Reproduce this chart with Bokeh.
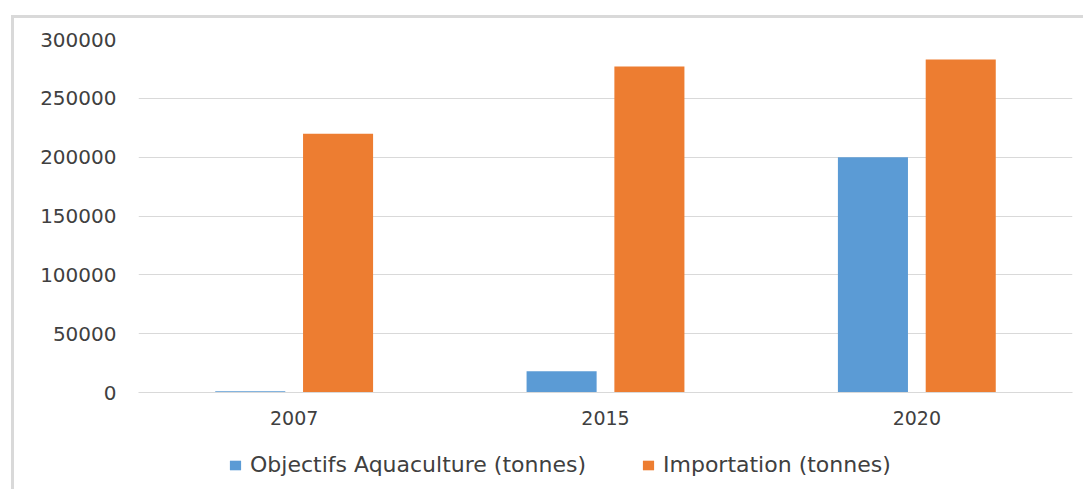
from bokeh.plotting import figure
from bokeh.layouts import column
from bokeh.models import (FactorRange, Range1d, SingleIntervalTicker, Legend, LegendItem,
                          NumeralTickFormatter)
from bokeh.transform import dodge
from bokeh.models import ColumnDataSource
from bokeh.embed import file_html
from bokeh.resources import INLINE

years = ["2007", "2015", "2020"]
aquaculture = [1000, 18000, 200000]
importation = [220000, 277000, 283000]
series_names = ["Objectifs Aquaculture (tonnes)", "Importation (tonnes)"]
colors = ["#5B9BD5", "#ED7D31"]

src = ColumnDataSource(dict(year=years, aqua=aquaculture, imp=importation))

FONT = "DejaVu Sans"
TXT = "#404040"

p = figure(
    x_range=FactorRange(factors=years),
    y_range=Range1d(0, 300000),
    width=1069, height=419,
    output_backend="svg", toolbar_location=None,
    min_border_left=124, min_border_right=11,
    min_border_top=21, min_border_bottom=45,
)
p.outline_line_color = None
p.background_fill_color = "white"
p.border_fill_color = "white"

r1 = p.vbar(x=dodge("year", -0.141, range=p.x_range), top="aqua", width=0.225,
            source=src, color=colors[0], line_color=None)
r2 = p.vbar(x=dodge("year", 0.141, range=p.x_range), top="imp", width=0.225,
            source=src, color=colors[1], line_color=None)

p.xgrid.grid_line_color = None
p.ygrid.grid_line_color = "#d9d9d9"
p.ygrid.grid_line_width = 1

p.yaxis.ticker = SingleIntervalTicker(interval=50000)
p.yaxis.formatter = NumeralTickFormatter(format="0")
p.yaxis.axis_line_color = None
p.yaxis.major_tick_line_color = None
p.yaxis.minor_tick_line_color = None
p.yaxis.major_label_standoff = 16
p.yaxis.major_label_text_font = FONT
p.yaxis.major_label_text_font_size = "20px"
p.yaxis.major_label_text_color = TXT

p.xaxis.axis_line_color = "#d9d9d9"
p.xaxis.major_tick_line_color = None
p.xaxis.minor_tick_line_color = None
p.xaxis.major_label_standoff = 12
p.xaxis.major_label_text_font = FONT
p.xaxis.major_label_text_font_size = "19px"
p.xaxis.major_label_text_color = TXT

# Legend strip: its own small figure; its swatch renderers fall below its visible range
lg = figure(
    x_range=FactorRange(factors=years),
    y_range=Range1d(400000, 700000),
    width=1069, height=52,
    output_backend="svg", toolbar_location=None,
    min_border_left=0, min_border_right=0, min_border_top=0, min_border_bottom=0,
)
lg.axis.visible = False
lg.grid.visible = False
lg.outline_line_color = None
lg.background_fill_color = "white"
lg.border_fill_color = "white"
l1 = lg.vbar(x="year", top="aqua", width=0.225, source=src, color=colors[0], line_color=None)
l2 = lg.vbar(x="year", top="imp", width=0.225, source=src, color=colors[1], line_color=None)

legend = Legend(
    items=[LegendItem(label=series_names[0], renderers=[l1]),
           LegendItem(label=series_names[1], renderers=[l2])],
    orientation="horizontal",
    location=(90, 12),
    glyph_width=14, glyph_height=12,
    label_standoff=8, label_width=340, spacing=51, padding=0, margin=0,
    border_line_color=None, background_fill_alpha=0,
    label_text_font=FONT, label_text_font_size="22px", label_text_color=TXT,
)
lg.add_layout(legend, "center")

page = column(p, lg, spacing=0)
page.styles = {"margin-left": "11px", "margin-top": "15px",
               "border-top": "3px solid #d9d9d9", "border-left": "3px solid #d9d9d9"}

open("out.html", "w").write(file_html(page, INLINE))
